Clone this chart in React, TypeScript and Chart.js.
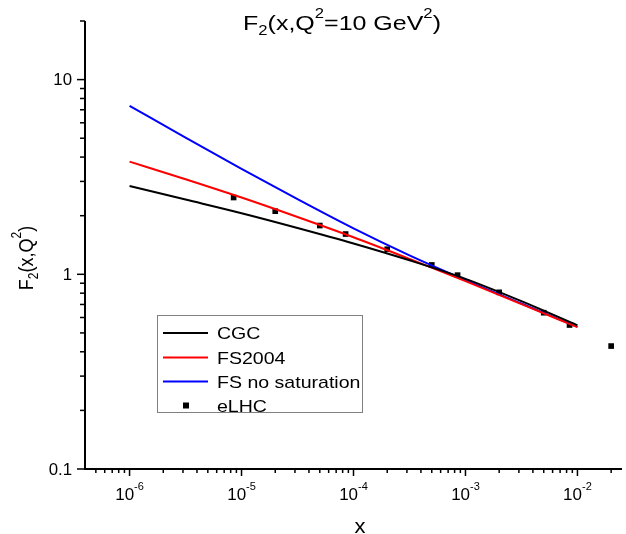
import React, { useEffect, useRef } from 'react';
import { Chart, registerables } from 'chart.js';

Chart.register(...registerables);

// ---- data ----
const CURVE_X = [1e-6, 3.162e-6, 1e-5, 3.162e-5, 1e-4, 3.162e-4, 1e-3, 3.162e-3, 1e-2];
const CGC = [2.84, 2.42, 2.06, 1.73, 1.44, 1.18, 0.948, 0.728, 0.547];
const FS2004 = [3.79, 3.08, 2.48, 1.97, 1.55, 1.2, 0.923, 0.703, 0.535];
const FS_NOSAT = [7.33, 5.04, 3.48, 2.43, 1.72, 1.25, 0.933, 0.708, 0.537];
const ELHC_X = [8.5e-6, 2e-5, 5e-5, 8.5e-5, 2e-4, 5e-4, 8.5e-4, 2e-3, 5e-3, 8.5e-3, 2e-2];
const ELHC_Y = [2.48, 2.11, 1.78, 1.61, 1.345, 1.117, 0.99, 0.808, 0.635, 0.549, 0.428];

const X_TICKS = [1e-6, 1e-5, 1e-4, 1e-3, 1e-2];
const X_TICK_EXP = ['-6', '-5', '-4', '-3', '-2'];
const Y_TICKS = [0.1, 1, 10];
const Y_TICK_LABELS = ['0.1', '1', '10'];

const SERIES_LABELS = ['CGC', 'FS2004', 'FS no saturation', 'eLHC'];
const SERIES_COLORS = ['#000000', '#ff0000', '#0000ff', '#000000'];

const FONT = '"Liberation Sans", Arial, sans-serif';

type Seg = { t: string; k: number };

function drawRich(
  ctx: CanvasRenderingContext2D,
  segs: Seg[],
  x: number,
  y: number,
  size: number,
  align: string,
  sx: number = 1,
) {
  const small = Math.round(size * 0.65);
  let w = 0;
  const widths: number[] = [];
  for (const s of segs) {
    ctx.font = `${s.k === 0 ? size : small}px ${FONT}`;
    const m = ctx.measureText(s.t).width;
    widths.push(m);
    w += m;
  }
  ctx.save();
  ctx.translate(x, y);
  ctx.scale(sx, 1);
  let cx = align === 'center' ? -w / 2 : align === 'right' ? -w : 0;
  ctx.textAlign = 'left';
  ctx.textBaseline = 'alphabetic';
  segs.forEach((s, i) => {
    ctx.font = `${s.k === 0 ? size : small}px ${FONT}`;
    const dy = s.k === 1 ? -size * 0.56 : s.k === -1 ? size * 0.25 : 0;
    ctx.fillText(s.t, cx, dy);
    cx += widths[i];
  });
  ctx.restore();
}

const decorPlugin = {
  id: 'decor',
  afterDatasetsDraw(chart: any) {
    const ctx: CanvasRenderingContext2D = chart.ctx;
    const { left, right, top, bottom } = chart.chartArea;
    const xs = chart.scales.x;
    const ys = chart.scales.y;
    ctx.save();
    ctx.fillStyle = '#000';
    ctx.strokeStyle = '#000';

    // axis lines
    ctx.lineWidth = 2;
    ctx.beginPath();
    ctx.moveTo(left, top);
    ctx.lineTo(left, bottom);
    ctx.lineTo(right, bottom);
    ctx.stroke();

    // ticks
    ctx.lineWidth = 1.5;
    for (let e = -7; e <= -1; e++) {
      for (let m = 1; m <= 9; m++) {
        const v = m * Math.pow(10, e);
        if (v < xs.min * 0.999 || v > xs.max * 1.001) continue;
        const px = xs.getPixelForValue(v);
        if (px <= left + 1) continue;
        const len = m === 1 ? 7 : 4;
        ctx.beginPath();
        ctx.moveTo(px, bottom);
        ctx.lineTo(px, bottom + len);
        ctx.stroke();
      }
    }
    for (let e = -1; e <= 1; e++) {
      for (let m = 1; m <= 9; m++) {
        const v = m * Math.pow(10, e);
        if (v < ys.min * 0.999 || v > ys.max * 1.001) continue;
        const py = ys.getPixelForValue(v);
        const len = m === 1 ? 8 : 5;
        ctx.beginPath();
        ctx.moveTo(left, py);
        ctx.lineTo(left - len, py);
        ctx.stroke();
      }
    }

    // tick labels
    X_TICKS.forEach((v, i) => {
      const px = xs.getPixelForValue(v);
      drawRich(ctx, [{ t: '10', k: 0 }, { t: X_TICK_EXP[i], k: 1 }], px, bottom + 31, 17, 'center');
    });
    Y_TICKS.forEach((v, i) => {
      const py = ys.getPixelForValue(v);
      drawRich(ctx, [{ t: Y_TICK_LABELS[i], k: 0 }], left - 13, py + 5.7, 16, 'right', 1.05);
    });

    // title
    drawRich(ctx, [
      { t: 'F', k: 0 }, { t: '2', k: -1 }, { t: '(x,Q', k: 0 }, { t: '2', k: 1 },
      { t: '=10 GeV', k: 0 }, { t: '2', k: 1 }, { t: ')', k: 0 },
    ], 342, 30, 21, 'center', 1.19);

    // axis titles
    drawRich(ctx, [{ t: 'x', k: 0 }], 360, 533, 20, 'center', 1.1);
    ctx.save();
    ctx.translate(33, 258);
    ctx.scale(1.17, 1);
    ctx.rotate(-Math.PI / 2);
    drawRich(ctx, [{ t: 'F', k: 0 }, { t: '2', k: -1 }, { t: '(x,Q', k: 0 }, { t: '2', k: 1 }, { t: ')', k: 0 }], 0, 0, 18, 'center');
    ctx.restore();

    // legend
    const lx = 157.5, ly = 315.5, lw = 205, lh = 97;
    ctx.fillStyle = '#fff';
    ctx.fillRect(lx, ly, lw, lh);
    ctx.strokeStyle = '#808080';
    ctx.lineWidth = 1;
    ctx.strokeRect(lx, ly, lw, lh);
    const rows = [333, 357.5, 381.5, 405.5];
    SERIES_LABELS.forEach((lab, i) => {
      const ry = rows[i];
      ctx.fillStyle = SERIES_COLORS[i];
      ctx.strokeStyle = SERIES_COLORS[i];
      if (i < 3) {
        ctx.lineWidth = 2;
        ctx.beginPath();
        ctx.moveTo(163, ry);
        ctx.lineTo(208, ry);
        ctx.stroke();
      } else {
        ctx.fillRect(183, ry - 3, 6, 6);
      }
      ctx.fillStyle = '#000';
      drawRich(ctx, [{ t: lab, k: 0 }], 217, ry + 6.2, 17, 'left', 1.15);
    });
    ctx.restore();
  },
};

export default function App() {
  const ref = useRef<HTMLCanvasElement | null>(null);
  useEffect(() => {
    document.body.style.margin = '0';
    const canvas = ref.current;
    if (!canvas) return;
    const line = (label: string, ys: number[], color: string) => ({
      type: 'line' as const,
      label,
      data: CURVE_X.map((x, i) => ({ x, y: ys[i] })),
      borderColor: color,
      backgroundColor: color,
      borderWidth: 2,
      pointRadius: 0,
      cubicInterpolationMode: 'monotone' as const,
      fill: false,
    });
    const chart = new Chart(canvas, {
      type: 'line',
      data: {
        datasets: [
          line(SERIES_LABELS[0], CGC, SERIES_COLORS[0]),
          line(SERIES_LABELS[1], FS2004, SERIES_COLORS[1]),
          line(SERIES_LABELS[2], FS_NOSAT, SERIES_COLORS[2]),
          {
            type: 'scatter' as const,
            label: SERIES_LABELS[3],
            data: ELHC_X.map((x, i) => ({ x, y: ELHC_Y[i] })),
            showLine: false,
            pointStyle: 'rect',
            pointRadius: 4,
            borderWidth: 0,
            backgroundColor: '#000',
            borderColor: '#000',
          } as any,
        ],
      },
      options: {
        animation: false,
        responsive: false,
        maintainAspectRatio: false,
        layout: { padding: { left: 85, top: 21, right: 0, bottom: 65 } },
        plugins: { legend: { display: false }, title: { display: false }, tooltip: { enabled: false } },
        scales: {
          x: { type: 'logarithmic', display: false, min: 4e-7, max: 2.5e-2 },
          y: { type: 'logarithmic', display: false, min: 0.1, max: 20 },
        },
      },
      plugins: [decorPlugin],
    });
    return () => chart.destroy();
  }, []);
  return (
    <div style={{ width: 626, height: 534, background: '#fff' }}>
      <canvas ref={ref} width={626} height={534} style={{ display: 'block' }} />
    </div>
  );
}
